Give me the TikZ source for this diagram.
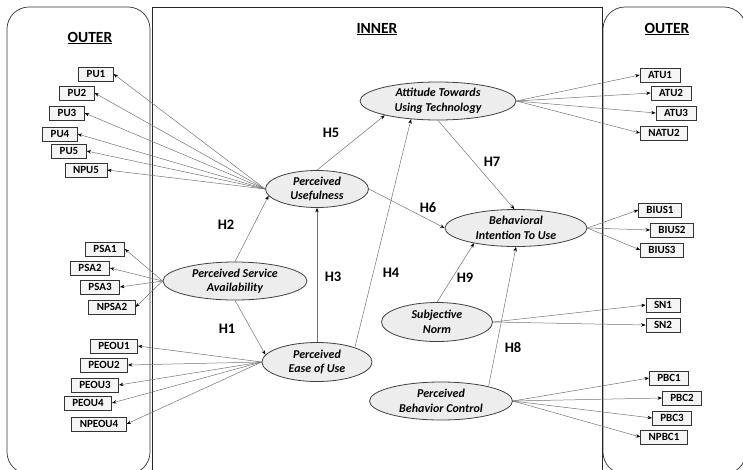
\documentclass[tikz,border=0pt]{standalone}
\usepackage{fontspec}
\setmainfont{Carlito}
\usetikzlibrary{arrows.meta,shapes.geometric}

\begin{document}
\begin{tikzpicture}[x=1pt,y=-1pt,
  panel/.style={draw=black!80, line width=0.7pt, rounded corners=22pt},
  frame/.style={draw=black!85, line width=0.7pt},
  latent/.style={ellipse, draw=black!75, line width=0.8pt, fill=black!7, inner sep=0pt,
    align=center, font=\fontsize{12}{14.5}\selectfont\bfseries\itshape},
  item/.style={rectangle, draw=black!80, line width=0.6pt, fill=black!4, inner xsep=8pt,
    inner ysep=0pt, minimum height=14pt, font=\fontsize{11}{12}\selectfont\bfseries},
  link/.style={draw=black!55, line width=0.5pt, -{Stealth[length=4.5pt,width=3.4pt,color=black]}},
  hlabel/.style={font=\fontsize{14.5}{16}\selectfont\bfseries},
  heading/.style={font=\fontsize{15.5}{18}\selectfont\bfseries}
]
\useasboundingbox (0,0) rectangle (743,469);
\clip (0,0) rectangle (743,469);

% panels
\draw[panel] (7,7) rectangle (150,474);
\draw[panel] (603,7) rectangle (746,474);
\draw[frame] (152,480) -- (152,7) -- (602,7) -- (602,480);

% headings
\node[heading] (houtL) at (90,38) {\underline{OUTER}};
\node[heading] (hin) at (377,29) {\underline{INNER}};
\node[heading] (houtR) at (667,29) {\underline{OUTER}};

% latent constructs
\node[latent, minimum width=103pt, minimum height=37pt] (PU) at (317,189) {Perceived\\Usefulness};
\node[latent, minimum width=156pt, minimum height=38pt] (ATU) at (438,101) {Attitude Towards\\Using Technology};
\node[latent, minimum width=142pt, minimum height=37pt] (BI) at (516,228) {Behavioral\\Intention To Use};
\node[latent, minimum width=144pt, minimum height=38pt] (PSA) at (235,281) {Perceived Service\\Availability};
\node[latent, minimum width=110pt, minimum height=39pt] (PEOU) at (317,362) {Perceived\\Ease of Use};
\node[latent, minimum width=111pt, minimum height=39pt] (SN) at (437,322) {Subjective\\Norm};
\node[latent, minimum width=143pt, minimum height=38pt] (PBC) at (441,401) {Perceived\\Behavior Control};

% indicators, left side
\node[item] (pu1) at (96,74) {PU1};
\node[item] (pu2) at (77,93) {PU2};
\node[item] (pu3) at (67,113) {PU3};
\node[item] (pu4) at (60,134) {PU4};
\node[item] (pu5) at (69,151) {PU5};
\node[item] (npu5) at (86,170) {NPU5};

\node[item] (psa1) at (105,249) {PSA1};
\node[item] (psa2) at (90,268) {PSA2};
\node[item] (psa3) at (100,287) {PSA3};
\node[item] (npsa2) at (112,307) {NPSA2};

\node[item] (peou1) at (114,346) {PEOU1};
\node[item] (peou2) at (104,365) {PEOU2};
\node[item] (peou3) at (95,385) {PEOU3};
\node[item] (peou4) at (88,403) {PEOU4};
\node[item] (npeou4) at (99,424) {NPEOU4};

% indicators, right side
\node[item] (atu1) at (660,75) {ATU1};
\node[item] (atu2) at (671,93) {ATU2};
\node[item] (atu3) at (676,113) {ATU3};
\node[item] (natu2) at (664,133) {NATU2};

\node[item] (bius1) at (660,210) {BIUS1};
\node[item] (bius2) at (672,230) {BIUS2};
\node[item] (bius3) at (662,250) {BIUS3};

\node[item] (sn1) at (663,305) {SN1};
\node[item] (sn2) at (663,325) {SN2};

\node[item] (pbc1) at (669,378) {PBC1};
\node[item] (pbc2) at (682,398) {PBC2};
\node[item] (pbc3) at (672,418) {PBC3};
\node[item] (npbc1) at (664,437) {NPBC1};

% measurement links
\foreach \t in {pu1,pu2,pu3,pu4,pu5,npu5} \draw[link] (PU.west) -- (\t.east);
\foreach \t in {psa1,psa2,psa3,npsa2} \draw[link] (PSA.west) -- (\t.east);
\foreach \t in {peou1,peou2,peou3,peou4,npeou4} \draw[link] (PEOU.west) -- (\t.east);
\foreach \t in {atu1,atu2,atu3,natu2} \draw[link] (ATU.east) -- (\t.west);
\foreach \t in {bius1,bius2,bius3} \draw[link] (BI.east) -- (\t.west);
\foreach \t in {sn1,sn2} \draw[link] (SN.east) -- (\t.west);
\foreach \t in {pbc1,pbc2,pbc3,npbc1} \draw[link] (PBC.east) -- (\t.west);

% structural paths
\draw[link] (PSA.north) -- (PU.188);
\draw[link] (PSA.south) -- (PEOU.172);
\draw[link] (PEOU.north) -- (PU.south);
\draw[link] (PEOU.21) -- (ATU.214);
\draw[link] (PU.north) -- (ATU.195);
\draw[link] (PU.east) -- (BI.west);
\draw[link] (ATU.south) -- (BI.95);
\draw[link] (SN.north) -- (BI.200);
\draw[link] (PBC.17) -- (BI.south);

% hypothesis labels
\node[hlabel] (h1) at (227,329) {H1};
\node[hlabel] (h2) at (226,225) {H2};
\node[hlabel] (h3) at (333,277) {H3};
\node[hlabel] (h4) at (391,273) {H4};
\node[hlabel] (h5) at (331,133) {H5};
\node[hlabel] (h6) at (428,208) {H6};
\node[hlabel] (h7) at (492,162) {H7};
\node[hlabel] (h8) at (513,348) {H8};
\node[hlabel] (h9) at (465,278) {H9};
\end{tikzpicture}
\end{document}
